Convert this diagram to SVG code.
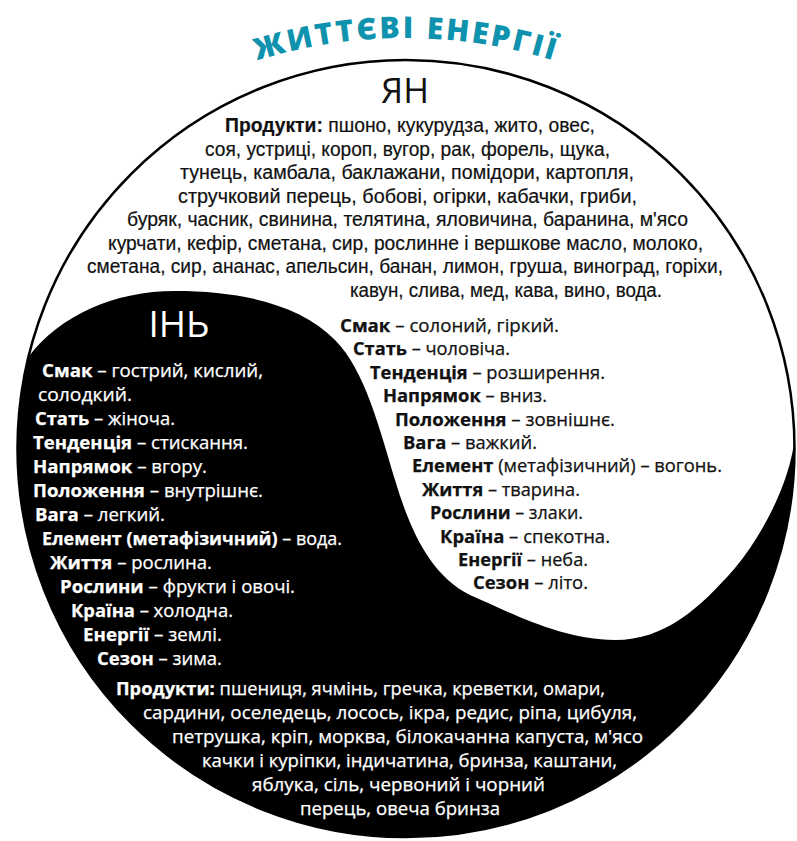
<svg xmlns="http://www.w3.org/2000/svg" width="797" height="841" viewBox="0 0 797 841">
  <style>
    .h{font-family:"Open Sans","Noto Sans","DejaVu Sans",sans-serif;font-size:17.5px}
    .dark{fill:#111;stroke:#111;stroke-width:0.25px}
    .light{fill:#fff;stroke:#fff;stroke-width:0.25px}
    .b{font-weight:700}
    .narrow{font-family:"Liberation Sans",Arial,sans-serif;font-size:19.5px;fill:#111;stroke:#111;stroke-width:0.2px}
    .label{font-family:"Open Sans","Noto Sans",sans-serif;font-weight:400}
    .title{font-family:"Open Sans","Noto Sans",sans-serif;font-weight:800;font-size:30px;fill:#0f92ae}
  </style>
  <defs>
    <path id="title-arc" d="M 105,138 A 500,500 0 0 1 705,138"/>
  </defs>

  <rect width="797" height="841" fill="#fff"/>

  <!-- yin-yang disc: white field with outline, black field below the S-curve -->
  <g id="disc">
    <circle cx="406" cy="448.5" r="388.5" fill="#fff" stroke="#000" stroke-width="2.5"/>
    <path id="yin-field" fill="#000" d="M 28.4,357
      C 60,315 115,291 175,291
      C 240,291 300,304 335,340
      C 365,370 380,430 395,480
      C 410,530 430,575 470,595
      C 505,610 560,640 615,640
      C 665,640 700,608 735,568
      C 765,532 790,480 794.4,440
      A 388.5,388.5 0 1 1 28.4,357 Z"/>
  </g>

  <!-- heading along an arc -->
  <g id="title">
    <text class="title" text-anchor="middle" textLength="300" lengthAdjust="spacing"><textPath href="#title-arc" startOffset="50%">ЖИТТЄВІ ЕНЕРГІЇ</textPath></text>
  </g>

  <!-- yang half -->
  <g id="yang">
    <text class="label" fill="#111" x="405" y="103" font-size="35" text-anchor="middle">ЯН</text>
    <g id="yang-products" class="narrow">
      <text x="225" y="132" textLength="370" lengthAdjust="spacingAndGlyphs"><tspan font-weight="700">Продукти:</tspan> пшоно, кукурудза, жито, овес,</text>
      <text x="205" y="155.5" textLength="405" lengthAdjust="spacingAndGlyphs">соя, устриці, короп, вугор, рак, форель, щука,</text>
      <text x="180" y="179" textLength="454" lengthAdjust="spacingAndGlyphs">тунець, камбала, баклажани, помідори, картопля,</text>
      <text x="178" y="202.5" textLength="459" lengthAdjust="spacingAndGlyphs">стручковий перець, бобові, огірки, кабачки, гриби,</text>
      <text x="127" y="226" textLength="561" lengthAdjust="spacingAndGlyphs">буряк, часник, свинина, телятина, яловичина, баранина, м'ясо</text>
      <text x="108" y="249.5" textLength="595" lengthAdjust="spacingAndGlyphs">курчати, кефір, сметана, сир, рослинне і вершкове масло, молоко,</text>
      <text x="87" y="273" textLength="636" lengthAdjust="spacingAndGlyphs">сметана, сир, ананас, апельсин, банан, лимон, груша, виноград, горіхи,</text>
      <text x="350" y="296.5" textLength="312" lengthAdjust="spacingAndGlyphs">кавун, слива, мед, кава, вино, вода.</text>
    </g>
    <g id="yang-traits" class="h dark">
      <text x="340" y="332" textLength="219" lengthAdjust="spacingAndGlyphs"><tspan class="b">Смак</tspan> – солоний, гіркий.</text>
      <text x="353" y="355.4" textLength="157" lengthAdjust="spacingAndGlyphs"><tspan class="b">Стать</tspan> – чоловіча.</text>
      <text x="370" y="378.8" textLength="235" lengthAdjust="spacingAndGlyphs"><tspan class="b">Тенденція</tspan> – розширення.</text>
      <text x="383" y="402.2" textLength="164" lengthAdjust="spacingAndGlyphs"><tspan class="b">Напрямок</tspan> – вниз.</text>
      <text x="395" y="425.6" textLength="220" lengthAdjust="spacingAndGlyphs"><tspan class="b">Положення</tspan> – зовнішнє.</text>
      <text x="403" y="449" textLength="134" lengthAdjust="spacingAndGlyphs"><tspan class="b">Вага</tspan> – важкий.</text>
      <text x="412" y="472.4" textLength="310" lengthAdjust="spacingAndGlyphs"><tspan class="b">Елемент</tspan> (метафізичний) – вогонь.</text>
      <text x="422" y="495.8" textLength="158" lengthAdjust="spacingAndGlyphs"><tspan class="b">Життя</tspan> – тварина.</text>
      <text x="430" y="519.2" textLength="153" lengthAdjust="spacingAndGlyphs"><tspan class="b">Рослини</tspan> – злаки.</text>
      <text x="440" y="542.6" textLength="170" lengthAdjust="spacingAndGlyphs"><tspan class="b">Країна</tspan> – спекотна.</text>
      <text x="458" y="566" textLength="130" lengthAdjust="spacingAndGlyphs"><tspan class="b">Енергії</tspan> – неба.</text>
      <text x="473" y="589.4" textLength="115" lengthAdjust="spacingAndGlyphs"><tspan class="b">Сезон</tspan> – літо.</text>
    </g>
  </g>

  <!-- yin half -->
  <g id="yin">
    <text class="label" fill="#fff" x="179" y="337" font-size="37" text-anchor="middle">ІНЬ</text>
    <g id="yin-traits" class="h light">
      <text x="42" y="377" textLength="221" lengthAdjust="spacingAndGlyphs"><tspan class="b">Смак</tspan> – гострий, кислий,</text>
      <text x="38" y="401" textLength="94" lengthAdjust="spacingAndGlyphs">солодкий.</text>
      <text x="35" y="425" textLength="140" lengthAdjust="spacingAndGlyphs"><tspan class="b">Стать</tspan> – жіноча.</text>
      <text x="33" y="449" textLength="215" lengthAdjust="spacingAndGlyphs"><tspan class="b">Тенденція</tspan> – стискання.</text>
      <text x="33" y="473" textLength="174" lengthAdjust="spacingAndGlyphs"><tspan class="b">Напрямок</tspan> – вгору.</text>
      <text x="33" y="497" textLength="230" lengthAdjust="spacingAndGlyphs"><tspan class="b">Положення</tspan> – внутрішнє.</text>
      <text x="35" y="521" textLength="130" lengthAdjust="spacingAndGlyphs"><tspan class="b">Вага</tspan> – легкий.</text>
      <text x="42" y="545" textLength="300" lengthAdjust="spacingAndGlyphs"><tspan class="b">Елемент (метафізичний)</tspan> – вода.</text>
      <text x="50" y="569" textLength="162" lengthAdjust="spacingAndGlyphs"><tspan class="b">Життя</tspan> – рослина.</text>
      <text x="60" y="593" textLength="235" lengthAdjust="spacingAndGlyphs"><tspan class="b">Рослини</tspan> – фрукти і овочі.</text>
      <text x="71" y="617" textLength="162" lengthAdjust="spacingAndGlyphs"><tspan class="b">Країна</tspan> – холодна.</text>
      <text x="83" y="641" textLength="139" lengthAdjust="spacingAndGlyphs"><tspan class="b">Енергії</tspan> – землі.</text>
      <text x="97" y="665" textLength="125" lengthAdjust="spacingAndGlyphs"><tspan class="b">Сезон</tspan> – зима.</text>
    </g>
    <g id="yin-products" class="h light">
      <text x="116" y="695" textLength="489" lengthAdjust="spacingAndGlyphs"><tspan class="b">Продукти:</tspan> пшениця, ячмінь, гречка, креветки, омари,</text>
      <text x="143" y="719" textLength="494" lengthAdjust="spacingAndGlyphs">сардини, оселедець, лосось, ікра, редис, ріпа, цибуля,</text>
      <text x="172" y="743" textLength="471" lengthAdjust="spacingAndGlyphs">петрушка, кріп, морква, білокачанна капуста, м'ясо</text>
      <text x="202" y="767" textLength="415" lengthAdjust="spacingAndGlyphs">качки і куріпки, індичатина, бринза, каштани,</text>
      <text x="252" y="791" textLength="293" lengthAdjust="spacingAndGlyphs">яблука, сіль, червоний і чорний</text>
      <text x="300" y="815" textLength="200" lengthAdjust="spacingAndGlyphs">перець, овеча бринза</text>
    </g>
  </g>
</svg>
